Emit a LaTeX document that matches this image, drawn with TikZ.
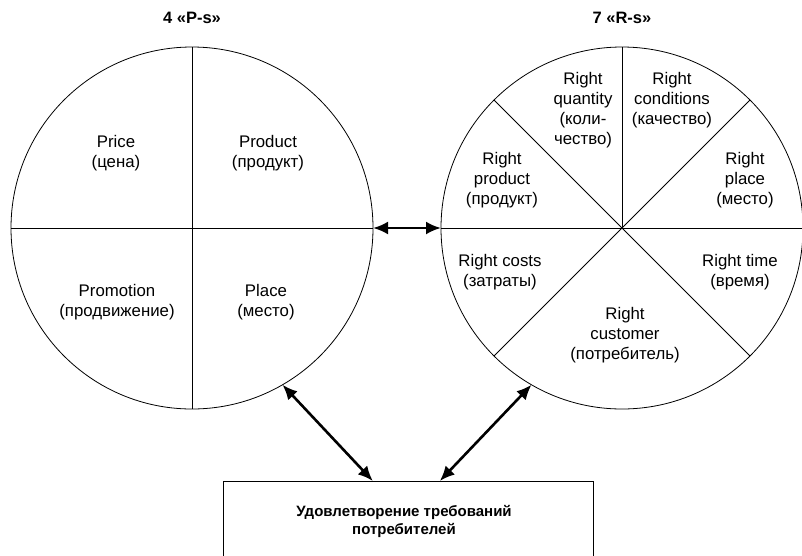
\documentclass[tikz,border=0pt]{standalone}
\usepackage{fontspec}
\setmainfont{Liberation Sans}
\usetikzlibrary{arrows.meta, calc}

\begin{document}
\begin{tikzpicture}[
    x=1pt, y=-1pt,
    wheel/.style={circle, draw, line width=0.8pt, outer sep=0pt, minimum size=362pt, inner sep=0pt},
    spoke/.style={line width=1pt},
    sector/.style={align=center, font=\fontsize{16.8}{20}\selectfont},
    title/.style={font=\fontsize{16.5}{18}\selectfont\bfseries},
    goalbox/.style={rectangle, draw, line width=0.9pt, minimum width=370pt, minimum height=100pt, outer sep=0pt},
    goaltext/.style={align=center, font=\fontsize{15}{18}\selectfont\bfseries},
    link/.style={{Latex[length=15pt, width=13pt]}-{Latex[length=15pt, width=13pt]}, line width=2.6pt}
]
\clip (0,0) rectangle (802,555);
\fill[white] (0,0) rectangle (802,555);

% Left wheel: 4 P-s
\node[wheel] (ps) at (192,228) {};
\node[title] (pstitle) at (192,18) {4 «P-s»};
\draw[spoke] (ps.north) -- (ps.south);
\draw[spoke] (ps.west) -- (ps.east);

\node[sector] (price) at (116,153) {Price\\(цена)};
\node[sector] (product) at (268,153) {Product\\(продукт)};
\node[sector] (promo) at (117,302) {Promotion\\(продвижение)};
\node[sector] (place) at (266,302) {Place\\(место)};

% Right wheel: 7 R-s
\node[wheel] (rs) at (622,228) {};
\node[title] (rstitle) at (622,18) {7 «R-s»};
\draw[spoke] (rs.west) -- (rs.east);
\draw[spoke] (rs.center) -- (rs.north);
\foreach \a in {45,135,225,315}
    \draw[spoke] (rs.center) -- (rs.\a);

\node[sector] (rquant) at (583,110) {Right\\quantity\\(коли-\\чество)};
\node[sector] (rcond) at (672,100) {Right\\conditions\\(качество)};
\node[sector] (rprod) at (502,180) {Right\\product\\(продукт)};
\node[sector] (rplace) at (745,180) {Right\\place\\(место)};
\node[sector] (rcost) at (500,272) {Right costs\\(затраты)};
\node[sector] (rtime) at (740,272) {Right time\\(время)};
\node[sector] (rcust) at (625,335) {Right\\customer\\(потребитель)};

% Goal box
\node[goalbox] (goal) at (408,531) {};
\node[goaltext] (goallbl) at (404,521) {Удовлетворение требований\\потребителей};

% Links
\draw[link] (ps.east) -- (rs.west);
\draw[link] (ps.-60) -- ($(goal.north west)!0.405!(goal.north east)$);
\draw[link] (rs.-120) -- ($(goal.north west)!0.586!(goal.north east)$);

\end{tikzpicture}
\end{document}
